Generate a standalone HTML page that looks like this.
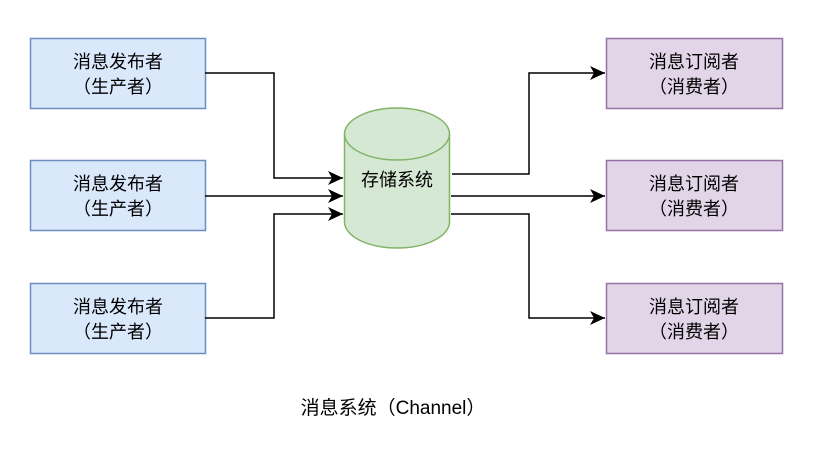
<!DOCTYPE html>
<html><head><meta charset="utf-8"><style>
body{margin:0;background:#fff;}
svg text{font-family:"Liberation Sans","Noto Sans CJK SC",sans-serif;font-size:18px;fill:#000;}
</style></head><body>
<svg width="815" height="444" viewBox="0 0 815 444" xmlns="http://www.w3.org/2000/svg">
<defs><marker id="a" markerWidth="16" markerHeight="16" refX="15" refY="7" orient="auto" markerUnits="userSpaceOnUse"><path d="M0,0 L15,7 L0,14 L4,7 Z" fill="#000"/></marker></defs>
<g fill="#dae8fc" stroke="#6c8ebf" stroke-width="1.5">
<rect x="30.5" y="38.5" width="175" height="70"/><rect x="30.5" y="160.5" width="175" height="70"/><rect x="30.5" y="283.5" width="175" height="70"/></g>
<g fill="#e1d5e7" stroke="#9673a6" stroke-width="1.5">
<rect x="606.5" y="38.5" width="176" height="70"/><rect x="606.5" y="160.5" width="176" height="70"/><rect x="606.5" y="283.5" width="176" height="70"/></g>
<g text-anchor="middle">
<text x="118" y="68">消息发布者</text><text x="118" y="93">（生产者）</text>
<text x="118" y="190">消息发布者</text><text x="118" y="215">（生产者）</text>
<text x="118" y="313">消息发布者</text><text x="118" y="338">（生产者）</text>
<text x="694" y="68">消息订阅者</text><text x="694" y="93">（消费者）</text>
<text x="694" y="190">消息订阅者</text><text x="694" y="215">（消费者）</text>
<text x="694" y="313">消息订阅者</text><text x="694" y="338">（消费者）</text>
</g>
<path d="M344.5,134 A52.5,26 0 0 1 449.5,134 L449.5,222 A52.5,26 0 0 1 344.5,222 Z" fill="#d5e8d4" stroke="#82b366" stroke-width="1.5"/>
<path d="M344.5,134 A52.5,26 0 0 0 449.5,134" fill="none" stroke="#82b366" stroke-width="1.5"/>
<text x="397" y="186" text-anchor="middle">存储系统</text>
<g fill="none" stroke="#000" stroke-width="1.5" marker-end="url(#a)">
<path d="M205,73 H274 V178 H343"/>
<path d="M205,196 H343"/>
<path d="M205,318 H274 V214 H343"/>
<path d="M452,174 H529 V73 H605"/>
<path d="M451,196 H605"/>
<path d="M451,214 H529 V318 H605"/>
</g>
<text x="393" y="414" text-anchor="middle" style="font-size:19px">消息系统（Channel）</text>
</svg>
</body></html>
